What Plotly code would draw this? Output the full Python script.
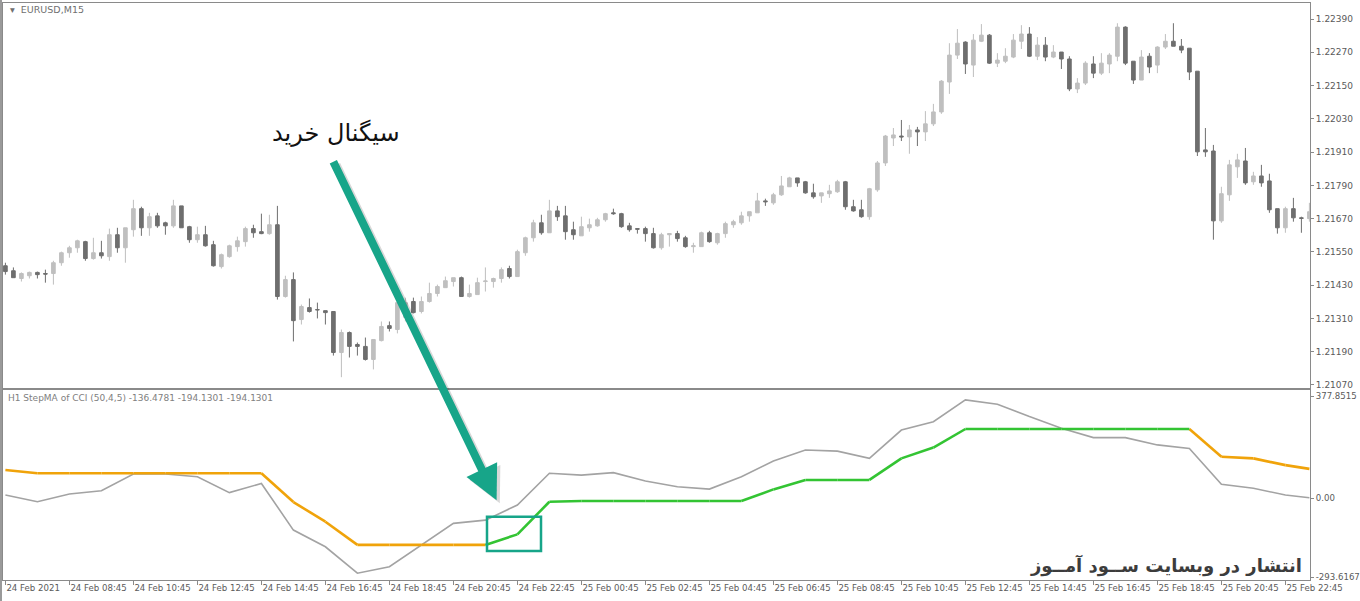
import plotly.graph_objects as go

# ---------------- data ----------------
open_ = [1.21500,1.21482,1.21454,1.21464,1.21476,1.21472,1.21472,1.21511,1.21547,1.21565,
         1.21587,1.21526,1.21547,1.21533,1.21612,1.21565,1.21630,1.21706,1.21637,1.21680,
         1.21655,1.21644,1.21716,1.21641,1.21594,1.21612,1.21576,1.21497,1.21533,1.21569,
         1.21587,1.21634,1.21623,1.21616,1.21648,1.21389,1.21450,1.21306,1.21349,1.21342,
         1.21338,1.21335,1.21187,1.21259,1.21216,1.21209,1.21162,1.21230,1.21284,1.21270,
         1.21314,1.21371,1.21335,1.21371,1.21400,1.21421,1.21443,1.21457,1.21389,1.21396,
         1.21443,1.21443,1.21454,1.21490,1.21461,1.21547,1.21601,1.21655,1.21619,1.21698,
         1.21680,1.21630,1.21608,1.21637,1.21644,1.21666,1.21691,1.21688,1.21644,1.21634,
         1.21634,1.21616,1.21565,1.21612,1.21616,1.21601,1.21569,1.21569,1.21619,1.21583,
         1.21616,1.21648,1.21655,1.21680,1.21691,1.21734,1.21727,1.21756,1.21785,1.21817,
         1.21803,1.21763,1.21752,1.21760,1.21767,1.21803,1.21713,1.21702,1.21677,1.21774,
         1.21871,1.21961,1.21968,1.21965,1.21990,1.21983,1.22012,1.22055,1.22163,1.22260,
         1.22307,1.22224,1.22310,1.22332,1.22231,1.22238,1.22253,1.22310,1.22336,1.22256,
         1.22296,1.22253,1.22271,1.22246,1.22138,1.22159,1.22228,1.22195,1.22228,1.22256,
         1.22361,1.22238,1.22170,1.22256,1.22224,1.22289,1.22310,1.22292,1.22285,1.22202,
         1.21918,1.21914,1.21662,1.21756,1.21857,1.21878,1.21803,1.21824,1.21806,1.21706,
         1.21637,1.21706,1.21673,1.21670]
high = [1.21511,1.21494,1.21476,1.21479,1.21479,1.21486,1.21518,1.21551,1.21572,1.21594,
        1.21590,1.21601,1.21590,1.21634,1.21637,1.21637,1.21738,1.21713,1.21691,1.21691,
        1.21659,1.21738,1.21716,1.21644,1.21641,1.21644,1.21590,1.21544,1.21576,1.21605,
        1.21641,1.21648,1.21688,1.21684,1.21716,1.21464,1.21476,1.21360,1.21382,1.21367,
        1.21338,1.21335,1.21270,1.21263,1.21223,1.21241,1.21234,1.21299,1.21299,1.21385,
        1.21385,1.21385,1.21389,1.21439,1.21432,1.21461,1.21457,1.21461,1.21432,1.21457,
        1.21494,1.21457,1.21494,1.21500,1.21558,1.21605,1.21666,1.21684,1.21738,1.21716,
        1.21716,1.21659,1.21677,1.21670,1.21673,1.21691,1.21706,1.21691,1.21655,1.21634,
        1.21641,1.21637,1.21619,1.21616,1.21626,1.21608,1.21583,1.21623,1.21626,1.21619,
        1.21659,1.21666,1.21695,1.21695,1.21763,1.21742,1.21763,1.21824,1.21821,1.21817,
        1.21806,1.21796,1.21763,1.21792,1.21810,1.21806,1.21738,1.21738,1.21781,1.21878,
        1.21972,1.21997,1.22026,1.22008,1.22001,1.22058,1.22084,1.22170,1.22303,1.22354,
        1.22310,1.22336,1.22372,1.22336,1.22267,1.22285,1.22336,1.22368,1.22361,1.22325,
        1.22325,1.22296,1.22271,1.22256,1.22177,1.22238,1.22256,1.22267,1.22267,1.22375,
        1.22364,1.22238,1.22278,1.22267,1.22292,1.22336,1.22375,1.22318,1.22285,1.22202,
        1.21997,1.21936,1.21785,1.21882,1.21904,1.21925,1.21839,1.21864,1.21832,1.21706,
        1.21713,1.21745,1.21677,1.21727]
low = [1.21468,1.21457,1.21443,1.21454,1.21454,1.21439,1.21432,1.21500,1.21529,1.21547,
       1.21518,1.21522,1.21526,1.21518,1.21547,1.21511,1.21605,1.21608,1.21608,1.21637,
       1.21612,1.21637,1.21637,1.21583,1.21583,1.21569,1.21497,1.21490,1.21529,1.21551,
       1.21569,1.21601,1.21614,1.21612,1.21378,1.21385,1.21227,1.21288,1.21331,1.21310,
       1.21288,1.21176,1.21098,1.21169,1.21176,1.21158,1.21126,1.21227,1.21263,1.21256,
       1.21299,1.21328,1.21328,1.21367,1.21389,1.21421,1.21425,1.21389,1.21385,1.21396,
       1.21407,1.21421,1.21439,1.21454,1.21461,1.21536,1.21587,1.21612,1.21619,1.21662,
       1.21594,1.21594,1.21608,1.21623,1.21641,1.21659,1.21684,1.21637,1.21623,1.21616,
       1.21587,1.21562,1.21558,1.21569,1.21587,1.21565,1.21547,1.21569,1.21583,1.21576,
       1.21601,1.21637,1.21648,1.21659,1.21691,1.21716,1.21720,1.21752,1.21785,1.21785,
       1.21760,1.21742,1.21727,1.21745,1.21763,1.21702,1.21695,1.21673,1.21666,1.21767,
       1.21860,1.21932,1.21950,1.21904,1.21932,1.21950,1.22004,1.22048,1.22120,1.22246,
       1.22192,1.22181,1.22307,1.22228,1.22217,1.22231,1.22249,1.22282,1.22253,1.22242,
       1.22238,1.22249,1.22210,1.22130,1.22123,1.22152,1.22177,1.22188,1.22195,1.22238,
       1.22224,1.22156,1.22170,1.22195,1.22195,1.22282,1.22292,1.22267,1.22170,1.21896,
       1.21893,1.21594,1.21655,1.21734,1.21817,1.21792,1.21792,1.21785,1.21691,1.21616,
       1.21619,1.21659,1.21619,1.21659]
close = [1.21479,1.21457,1.21472,1.21476,1.21468,1.21470,1.21511,1.21547,1.21565,1.21590,
         1.21526,1.21547,1.21536,1.21612,1.21565,1.21637,1.21706,1.21637,1.21677,1.21644,
         1.21644,1.21716,1.21637,1.21594,1.21612,1.21572,1.21500,1.21540,1.21572,1.21590,
         1.21634,1.21619,1.21616,1.21648,1.21389,1.21450,1.21302,1.21353,1.21335,1.21341,
         1.21331,1.21187,1.21259,1.21209,1.21209,1.21162,1.21234,1.21281,1.21274,1.21367,
         1.21367,1.21331,1.21371,1.21400,1.21425,1.21446,1.21457,1.21389,1.21400,1.21439,
         1.21445,1.21454,1.21486,1.21461,1.21551,1.21601,1.21655,1.21619,1.21698,1.21677,
         1.21623,1.21612,1.21641,1.21648,1.21666,1.21688,1.21688,1.21641,1.21630,1.21632,
         1.21616,1.21565,1.21612,1.21616,1.21598,1.21569,1.21572,1.21619,1.21587,1.21616,
         1.21652,1.21659,1.21680,1.21695,1.21734,1.21731,1.21756,1.21788,1.21817,1.21799,
         1.21763,1.21749,1.21763,1.21770,1.21803,1.21713,1.21698,1.21677,1.21778,1.21871,
         1.21968,1.21972,1.21965,1.21990,1.21983,1.22012,1.22055,1.22166,1.22260,1.22303,
         1.22228,1.22314,1.22332,1.22231,1.22242,1.22256,1.22314,1.22336,1.22256,1.22296,
         1.22253,1.22271,1.22246,1.22138,1.22159,1.22231,1.22195,1.22231,1.22260,1.22361,
         1.22231,1.22170,1.22253,1.22217,1.22289,1.22310,1.22292,1.22278,1.22199,1.21911,
         1.21911,1.21662,1.21760,1.21864,1.21882,1.21799,1.21824,1.21799,1.21702,1.21637,
         1.21706,1.21673,1.21671,1.21695]

# H1 indicator points (bar index on the M15 chart)
ind_idx = [0, 4, 8, 12, 16, 20, 24, 28, 32, 36, 40, 44, 48, 52, 56, 60, 64, 68, 72, 76, 80,
           84, 88, 92, 96, 100, 104, 108, 112, 116, 120, 124, 128, 132, 136, 140, 144, 148,
           152, 156, 160, 163]
cci = [11, -14, 15, 27, 89, 89, 79, 20, 54, -119, -181, -279, -255, -174, -94, -82, -26, 92,
       85, 94, 63, 42, 33, 79, 137, 178, 174, 147, 252, 283, 364, 348, 302, 259, 224, 224,
       197, 184, 51, 36, 11, 1]
step_ma = [104, 92, 92, 92, 92, 92, 92, 92, 92, -15, -88, -174, -174, -174, -174, -174, -135,
           -14, -11, -11, -11, -11, -11, -11, 32, 67, 67, 67, 147, 187, 256, 256, 256, 256,
           256, 256, 256, 256, 153, 147, 122, 108]
trend = ['dn'] * 16 + ['up'] * 22 + ['dn'] * 4

x_tick_idx = list(range(0, 161, 8))
x_tick_labels = ["24 Feb 2021", "24 Feb 08:45", "24 Feb 10:45", "24 Feb 12:45", "24 Feb 14:45",
                 "24 Feb 16:45", "24 Feb 18:45", "24 Feb 20:45", "24 Feb 22:45", "25 Feb 00:45",
                 "25 Feb 02:45", "25 Feb 04:45", "25 Feb 06:45", "25 Feb 08:45", "25 Feb 10:45",
                 "25 Feb 12:45", "25 Feb 14:45", "25 Feb 16:45", "25 Feb 18:45", "25 Feb 20:45",
                 "25 Feb 22:45"]
price_ticks = [1.21070, 1.21190, 1.21310, 1.21430, 1.21550, 1.21670, 1.21790, 1.21910,
               1.22030, 1.22150, 1.22270, 1.22390]
ind_ticks = [-293.6167, 0.0, 377.8515]
ind_tick_labels = ["-293.6167", "0.00", "377.8515"]

# ---------------- layout helpers ----------------
W, H = 1360, 601
ML, MR, MT, MB = 3, 50, 3, 21
PW, PH = W - ML - MR, H - MT - MB


def paper(xp, yp):
    return (xp - ML) / PW, (H - MB - yp) / PH


top_lo = paper(0, 388)[1]
bot_hi = paper(0, 390)[1]

BULL = "#BFBFBF"
BEAR = "#6E6E6E"
FRAME = "#8A8A8A"
TXT = "#5A5A5A"
TEAL = "#17A589"
FONT = "DejaVu Sans"

bars = list(range(len(open_)))

fig = go.Figure()
fig.add_trace(go.Candlestick(
    x=bars, open=open_, high=high, low=low, close=close,
    xaxis="x2", yaxis="y",
    increasing=dict(line=dict(color=BULL, width=1), fillcolor=BULL),
    decreasing=dict(line=dict(color=BEAR, width=1), fillcolor=BEAR),
    whiskerwidth=0, showlegend=False, hoverinfo="skip"))

# CCI line
fig.add_trace(go.Scatter(x=ind_idx, y=cci, mode="lines", xaxis="x", yaxis="y2",
                         line=dict(color="#A3A3A3", width=1.6), showlegend=False,
                         hoverinfo="skip"))

# StepMA coloured by trend
seg = {"dn": ([], []), "up": ([], [])}
for i in range(1, len(ind_idx)):
    xs, ys = seg[trend[i]]
    xs += [ind_idx[i - 1], ind_idx[i], None]
    ys += [step_ma[i - 1], step_ma[i], None]
for key, col in (("dn", "#F0A30A"), ("up", "#33C433")):
    fig.add_trace(go.Scatter(x=seg[key][0], y=seg[key][1], mode="lines", xaxis="x", yaxis="y2",
                             line=dict(color=col, width=2.6), connectgaps=False,
                             showlegend=False, hoverinfo="skip"))

xr = [-0.3, -0.3 + PW / 8.0]
axis_common = dict(showline=True, linecolor=FRAME, linewidth=1, mirror=True,
                   showgrid=False, zeroline=False, automargin=False)

fig.update_layout(
    width=W, height=H,
    margin=dict(l=ML, r=MR, t=MT, b=MB, autoexpand=False),
    paper_bgcolor="white", plot_bgcolor="white",
    boxgap=0.35,
    hovermode=False,
    font=dict(family=FONT, size=9, color=TXT),
    xaxis=dict(domain=[0, 1], anchor="y2", range=xr, tickmode="array",
               tickvals=x_tick_idx, ticktext=x_tick_labels, ticks="outside",
               ticklen=4, tickcolor=FRAME, ticklabelposition="outside right", tickangle=0,
               tickfont=dict(family=FONT, size=8.6, color=TXT),
               rangeslider=dict(visible=False), **axis_common),
    xaxis2=dict(domain=[0, 1], anchor="y", matches="x", range=xr, showticklabels=False,
                ticks="", rangeslider=dict(visible=False), **axis_common),
    yaxis=dict(domain=[top_lo, 1], anchor="x2", side="right", range=[1.21059, 1.22448],
               tickmode="array", tickvals=price_ticks, tickformat=".5f", ticks="outside",
               ticklen=3, tickcolor=FRAME, tickfont=dict(family=FONT, size=9, color=TXT),
               **axis_common),
    yaxis2=dict(domain=[0, bot_hi], anchor="x", side="right", range=[-304.2, 400.7],
                tickmode="array", tickvals=ind_ticks, ticktext=ind_tick_labels,
                ticks="outside", ticklen=3, tickcolor=FRAME,
                tickfont=dict(family=FONT, size=8.6, color=TXT), **axis_common),
)

ann = []
# chart title
px_, py_ = paper(8, 9)
ann.append(dict(xref="paper", yref="paper", x=px_, y=py_, xanchor="left", yanchor="middle",
                text="▾  EURUSD,M15", showarrow=False,
                font=dict(family=FONT, size=9.5, color="#707070")))
# indicator caption
px_, py_ = paper(6, 398)
ann.append(dict(xref="paper", yref="paper", x=px_, y=py_, xanchor="left", yanchor="middle",
                text="H1 StepMA of CCI (50,4,5) -136.4781 -194.1301 -194.1301",
                showarrow=False, font=dict(family=FONT, size=9, color="#808080")))
# arrow shadow + arrow
ann.append(dict(xref="x", yref="y2", x=61.8, y=-19, ax=-164, ay=-340, axref="pixel",
                ayref="pixel", showarrow=True, arrowhead=2, arrowsize=0.85, arrowwidth=8,
                arrowcolor="rgba(0,0,0,0.15)", text=""))
ann.append(dict(xref="x", yref="y2", x=61.4, y=-8, ax=-164, ay=-340, axref="pixel",
                ayref="pixel", showarrow=True, arrowhead=2, arrowsize=0.85, arrowwidth=8,
                arrowcolor=TEAL, text=""))
# Persian texts (right-anchored: RTL text)
px_, py_ = paper(402, 133)
ann.append(dict(xref="paper", yref="paper", x=px_, y=py_, showarrow=False,
                xanchor="right", yanchor="middle",
                text="سیگنال خرید", font=dict(family=FONT, size=24, color="#111111")))
px_, py_ = paper(1304, 565)
ann.append(dict(xref="paper", yref="paper", x=px_, y=py_, xanchor="right", yanchor="middle",
                showarrow=False, text="<b>انتشار در وبسایت ســود آمــوز</b>",
                font=dict(family=FONT, size=18, color="#3C3C3C")))
fig.update_layout(annotations=ann)

fig.add_shape(type="rect", xref="x", yref="y2", x0=60.2, x1=66.95, y0=-70, y1=-197,
              line=dict(color=TEAL, width=2.5), fillcolor="rgba(0,0,0,0)")
# window left border
fig.add_shape(type="line", xref="paper", yref="paper", x0=-2 / PW, x1=-2 / PW, y0=-MB / PH,
              y1=1 + MT / PH, line=dict(color="#9A9A9A", width=2))

fig.write_html("out.html", config={"displayModeBar": False},
               post_script="document.body.style.margin='0';document.body.style.overflow='hidden';")
